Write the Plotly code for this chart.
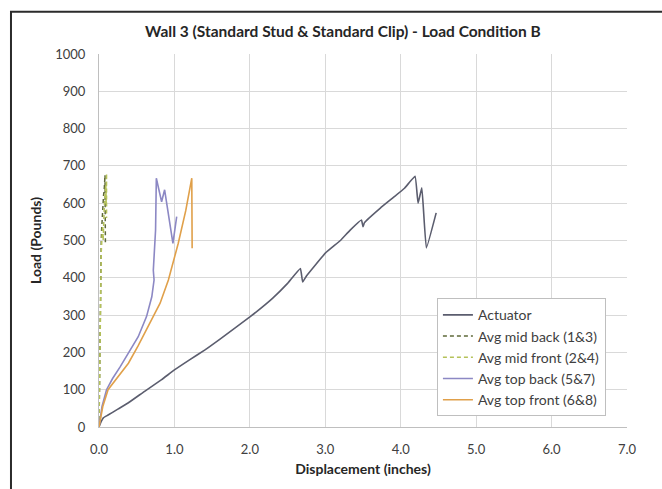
import plotly.graph_objects as go

# ---- data ----
actuator_x = [0.0, 0.03, 0.06, 0.12, 0.25, 0.39, 0.6, 0.83, 1.0, 1.2, 1.4, 1.6, 2.0, 2.3, 2.5, 2.67, 2.70, 2.75, 3.0, 3.2, 3.33, 3.48, 3.50, 3.52, 3.73, 3.9, 4.05, 4.19, 4.23, 4.28, 4.34, 4.47]
actuator_y = [0, 15, 25, 32, 48, 65, 95, 127, 153, 180, 206, 235, 295, 345, 385, 425, 389, 405, 466, 500, 528, 555, 537, 548, 587, 615, 640, 672, 600, 641, 480, 574]

mid_back_x = [0.0, 0.005, 0.01, 0.012, 0.015, 0.02, 0.025, 0.03, 0.035, 0.04, 0.05, 0.06, 0.07, 0.08, 0.082, 0.085]
mid_back_y = [0, 100, 200, 300, 360, 420, 470, 500, 530, 560, 590, 620, 640, 675, 580, 490]

mid_front_x = [0.0, 0.008, 0.015, 0.02, 0.03, 0.04, 0.05, 0.055, 0.06, 0.07, 0.08, 0.09, 0.095, 0.1, 0.1]
mid_front_y = [0, 120, 260, 380, 470, 510, 540, 500, 560, 590, 620, 650, 600, 680, 560]

top_back_x = [0.0, 0.04, 0.1, 0.18, 0.28, 0.4, 0.52, 0.63, 0.70, 0.73, 0.72, 0.75, 0.76, 0.83, 0.87, 0.98, 1.03]
top_back_y = [0, 55, 100, 130, 161, 200, 242, 296, 349, 394, 420, 528, 667, 604, 636, 492, 564]

top_front_x = [0.0, 0.05, 0.12, 0.25, 0.39, 0.52, 0.65, 0.73, 0.81, 0.92, 1.05, 1.15, 1.23, 1.235]
top_front_y = [0, 55, 100, 135, 171, 218, 269, 298, 332, 394, 492, 580, 667, 479]

x_ticks = [0, 1, 2, 3, 4, 5, 6, 7]
y_ticks = [0, 100, 200, 300, 400, 500, 600, 700, 800, 900, 1000]

FONT = "Lato, 'Open Sans', sans-serif"

fig = go.Figure()
fig.add_trace(go.Scatter(x=actuator_x, y=actuator_y, mode="lines", name="Actuator",
                         line=dict(color="#5b5d6e", width=1.6, shape="spline", smoothing=0.3)))
fig.add_trace(go.Scatter(x=mid_back_x, y=mid_back_y, mode="lines", name="Avg mid back (1&3)",
                         line=dict(color="#5f6a3a", width=1.5, dash="4px,3px")))
fig.add_trace(go.Scatter(x=mid_front_x, y=mid_front_y, mode="lines", name="Avg mid front (2&4)",
                         line=dict(color="#b5c25a", width=1.5, dash="4px,3px")))
fig.add_trace(go.Scatter(x=top_back_x, y=top_back_y, mode="lines", name="Avg top back (5&7)",
                         line=dict(color="#8c88c4", width=1.6)))
fig.add_trace(go.Scatter(x=top_front_x, y=top_front_y, mode="lines", name="Avg top front (6&8)",
                         line=dict(color="#e0a04a", width=1.6)))

fig.update_layout(
    width=662, height=489,
    margin=dict(l=99, r=35, t=54, b=62),
    paper_bgcolor="white", plot_bgcolor="white",
    font=dict(family=FONT, size=13, color="#404040"),
    title=dict(text="<b>Wall 3 (Standard Stud & Standard Clip) - Load Condition B</b>",
               x=0.518, xanchor="center", y=0.935, yanchor="middle",
               font=dict(family=FONT, size=15.5, color="#262626")),
    showlegend=True,
    legend=dict(x=0.64, y=0.345, xanchor="left", yanchor="top",
                bgcolor="white", bordercolor="#bfbfbf", borderwidth=1,
                font=dict(family=FONT, size=14, color="#404040"),
                tracegroupgap=0, itemwidth=30),
    shapes=[dict(type="rect", xref="paper", yref="paper",
                 x0=-0.1667, x1=1.08, y0=-0.18, y1=1.113,
                 line=dict(color="#2b2b2b", width=2), layer="above")],
)
fig.update_xaxes(range=[0, 7], tickvals=x_ticks, ticktext=[f"{v:.1f}" for v in x_ticks],
                 showgrid=True, gridcolor="#d9d9d9", gridwidth=1,
                 showline=True, linecolor="#bfbfbf", zeroline=False,
                 ticks="", ticklabelstandoff=10,
                 title=dict(text="<b>Displacement (inches)</b>", standoff=8,
                            font=dict(family=FONT, size=14, color="#262626")))
fig.update_yaxes(range=[0, 1000], tickvals=y_ticks,
                 showgrid=True, gridcolor="#d9d9d9", gridwidth=1,
                 showline=True, linecolor="#bfbfbf", zeroline=False,
                 ticks="", ticklabelstandoff=10,
                 title=dict(text="<b>Load (Pounds)</b>", standoff=10,
                            font=dict(family=FONT, size=14, color="#262626")))

fig.write_html("out.html")
